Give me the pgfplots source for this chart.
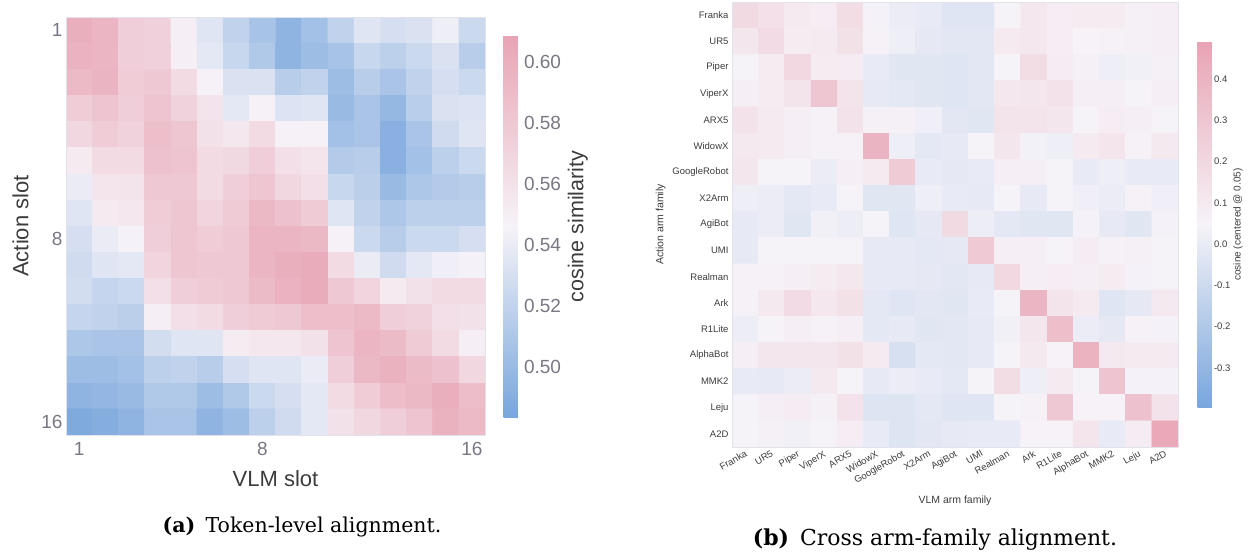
\documentclass[border=0pt]{standalone}
\usepackage{pgfplots}
\pgfplotsset{compat=1.18}
\usepackage{fontspec}
\setmainfont{Liberation Sans}
\newfontfamily\capfont{DejaVu Serif}
\definecolor{tickgray}{RGB}{120,120,132}
\definecolor{labdark}{RGB}{60,60,60}
\definecolor{framec}{RGB}{226,226,236}
\pgfplotsset{/pgf/number format/assume math mode=true,
  colormap={bwp}{rgb255(0cm)=(120,166,220); rgb255(1cm)=(246,243,248); rgb255(2cm)=(232,164,180)}}
\begin{document}
\begin{tikzpicture}
\path[use as bounding box] (0,0) rectangle (1251pt,552pt);
\begin{axis}[
 at={(66pt,117pt)}, anchor=south west, scale only axis,
 width=419pt, height=418pt,
 xmin=0.5, xmax=16.5, ymin=0.5, ymax=16.5, y dir=reverse,
 enlargelimits=false, axis on top,
 xtick={1,8,16}, ytick={1,9,16}, yticklabels={1,8,16},
 major tick length=0pt,
 axis line style={draw=framec},
 tick label style={font=\fontsize{19}{19}\selectfont, text=tickgray},
 xticklabel style={yshift=-4pt},
 xlabel={VLM slot}, ylabel={Action slot},
 xlabel shift=8pt, ylabel shift=6pt,
 label style={font=\fontsize{22}{22}\selectfont, text=labdark},
 colormap name=bwp, point meta min=0.4836, point meta max=0.6085,
 colorbar,
 colorbar style={at={(parent axis.north east)}, anchor=north west, xshift=10pt, yshift=-19pt,
   width=20pt, height=381pt, scale only axis, axis line style={draw=none}, major tick length=0pt,
   ytick={0.50,0.52,0.54,0.56,0.58,0.60},
   yticklabel style={xshift=-3pt, font=\fontsize{19}{19}\selectfont, text=tickgray, /pgf/number format/.cd, fixed, fixed zerofill, precision=2},
   ylabel={cosine similarity}, ylabel style={font=\fontsize{21.5}{21.5}\selectfont, text=labdark}},
]
\addplot[matrix plot*, mesh/cols=16, point meta=explicit] coordinates {
(1,1)[0.600] (2,1)[0.595] (3,1)[0.575] (4,1)[0.573] (5,1)[0.550] (6,1)[0.535] (7,1)[0.520] (8,1)[0.507] (9,1)[0.495] (10,1)[0.505] (11,1)[0.520] (12,1)[0.535] (13,1)[0.530] (14,1)[0.532] (15,1)[0.542] (16,1)[0.525]
(1,2)[0.597] (2,2)[0.595] (3,2)[0.575] (4,2)[0.573] (5,2)[0.550] (6,2)[0.537] (7,2)[0.523] (8,2)[0.512] (9,2)[0.495] (10,2)[0.502] (11,2)[0.507] (12,2)[0.523] (13,2)[0.518] (14,2)[0.525] (15,2)[0.532] (16,2)[0.515]
(1,3)[0.592] (2,3)[0.596] (3,3)[0.577] (4,3)[0.580] (5,3)[0.565] (6,3)[0.548] (7,3)[0.532] (8,3)[0.532] (9,3)[0.515] (10,3)[0.520] (11,3)[0.502] (12,3)[0.515] (13,3)[0.508] (14,3)[0.520] (15,3)[0.530] (16,3)[0.525]
(1,4)[0.577] (2,4)[0.583] (3,4)[0.575] (4,4)[0.583] (5,4)[0.572] (6,4)[0.558] (7,4)[0.537] (8,4)[0.548] (9,4)[0.533] (10,4)[0.535] (11,4)[0.500] (12,4)[0.508] (13,4)[0.498] (14,4)[0.516] (15,4)[0.532] (16,4)[0.533]
(1,5)[0.568] (2,5)[0.577] (3,5)[0.572] (4,5)[0.587] (5,5)[0.582] (6,5)[0.560] (7,5)[0.555] (8,5)[0.565] (9,5)[0.548] (10,5)[0.548] (11,5)[0.505] (12,5)[0.508] (13,5)[0.492] (14,5)[0.508] (15,5)[0.527] (16,5)[0.535]
(1,6)[0.553] (2,6)[0.565] (3,6)[0.565] (4,6)[0.585] (5,6)[0.583] (6,6)[0.565] (7,6)[0.567] (8,6)[0.575] (9,6)[0.562] (10,6)[0.557] (11,6)[0.513] (12,6)[0.515] (13,6)[0.492] (14,6)[0.505] (15,6)[0.518] (16,6)[0.525]
(1,7)[0.540] (2,7)[0.557] (3,7)[0.558] (4,7)[0.580] (5,7)[0.580] (6,7)[0.565] (7,7)[0.575] (8,7)[0.582] (9,7)[0.568] (10,7)[0.562] (11,7)[0.523] (12,7)[0.517] (13,7)[0.500] (14,7)[0.510] (15,7)[0.513] (16,7)[0.515]
(1,8)[0.535] (2,8)[0.553] (3,8)[0.555] (4,8)[0.577] (5,8)[0.582] (6,8)[0.570] (7,8)[0.578] (8,8)[0.593] (9,8)[0.585] (10,8)[0.578] (11,8)[0.535] (12,8)[0.520] (13,8)[0.510] (14,8)[0.518] (15,8)[0.518] (16,8)[0.518]
(1,9)[0.530] (2,9)[0.540] (3,9)[0.545] (4,9)[0.575] (5,9)[0.582] (6,9)[0.577] (7,9)[0.580] (8,9)[0.595] (9,9)[0.595] (10,9)[0.593] (11,9)[0.548] (12,9)[0.525] (13,9)[0.515] (14,9)[0.525] (15,9)[0.525] (16,9)[0.530]
(1,10)[0.527] (2,10)[0.535] (3,10)[0.537] (4,10)[0.570] (5,10)[0.582] (6,10)[0.580] (7,10)[0.580] (8,10)[0.595] (9,10)[0.600] (10,10)[0.602] (11,10)[0.565] (12,10)[0.540] (13,10)[0.527] (14,10)[0.537] (15,10)[0.543] (16,10)[0.545]
(1,11)[0.528] (2,11)[0.522] (3,11)[0.525] (4,11)[0.562] (5,11)[0.575] (6,11)[0.578] (7,11)[0.580] (8,11)[0.590] (9,11)[0.597] (10,11)[0.602] (11,11)[0.580] (12,11)[0.570] (13,11)[0.553] (14,11)[0.560] (15,11)[0.565] (16,11)[0.565]
(1,12)[0.522] (2,12)[0.520] (3,12)[0.517] (4,12)[0.550] (5,12)[0.562] (6,12)[0.565] (7,12)[0.575] (8,12)[0.578] (9,12)[0.580] (10,12)[0.587] (11,12)[0.587] (12,12)[0.592] (13,12)[0.575] (14,12)[0.572] (15,12)[0.562] (16,12)[0.560]
(1,13)[0.510] (2,13)[0.508] (3,13)[0.508] (4,13)[0.528] (5,13)[0.535] (6,13)[0.535] (7,13)[0.552] (8,13)[0.555] (9,13)[0.555] (10,13)[0.560] (11,13)[0.583] (12,13)[0.595] (13,13)[0.590] (14,13)[0.578] (15,13)[0.565] (16,13)[0.550]
(1,14)[0.502] (2,14)[0.502] (3,14)[0.505] (4,14)[0.518] (5,14)[0.520] (6,14)[0.515] (7,14)[0.530] (8,14)[0.535] (9,14)[0.535] (10,14)[0.540] (11,14)[0.575] (12,14)[0.593] (13,14)[0.598] (14,14)[0.590] (15,14)[0.585] (16,14)[0.568]
(1,15)[0.495] (2,15)[0.497] (3,15)[0.500] (4,15)[0.512] (5,15)[0.512] (6,15)[0.502] (7,15)[0.512] (8,15)[0.525] (9,15)[0.530] (10,15)[0.537] (11,15)[0.565] (12,15)[0.577] (13,15)[0.588] (14,15)[0.593] (15,15)[0.600] (16,15)[0.588]
(1,16)[0.487] (2,16)[0.490] (3,16)[0.495] (4,16)[0.508] (5,16)[0.508] (6,16)[0.495] (7,16)[0.502] (8,16)[0.518] (9,16)[0.527] (10,16)[0.537] (11,16)[0.560] (12,16)[0.568] (13,16)[0.575] (14,16)[0.583] (15,16)[0.598] (16,16)[0.592]
};
\end{axis}
\begin{axis}[
 at={(732pt,105pt)}, anchor=south west, scale only axis,
 width=446pt, height=445pt,
 xmin=0.5, xmax=17.5, ymin=0.5, ymax=17.5, y dir=reverse,
 enlargelimits=false, axis on top,
 xtick={1,...,17}, ytick={1,...,17},
 xticklabels={Franka,UR5,Piper,ViperX,ARX5,WidowX,GoogleRobot,X2Arm,AgiBot,UMI,Realman,Ark,R1Lite,AlphaBot,MMK2,Leju,A2D},
 yticklabels={Franka,UR5,Piper,ViperX,ARX5,WidowX,GoogleRobot,X2Arm,AgiBot,UMI,Realman,Ark,R1Lite,AlphaBot,MMK2,Leju,A2D},
 major tick length=0pt,
 axis line style={draw=framec},
 tick label style={font=\fontsize{9.5}{9.5}\selectfont, text=labdark},
 xticklabel style={rotate=30, anchor=north east, inner sep=2pt},
 xlabel={VLM arm family}, ylabel={Action arm family},
 xlabel shift=4pt,
 label style={font=\fontsize{10.5}{10.5}\selectfont, text=labdark},
 colormap name=bwp, point meta min=-0.395, point meta max=0.49,
 colorbar,
 colorbar style={at={(parent axis.north east)}, anchor=north west, xshift=11pt, yshift=-40pt,
   width=19pt, height=365pt, scale only axis, axis line style={draw=none}, major tick length=0pt,
   ytick={-0.3,-0.2,-0.1,0,0.1,0.2,0.3,0.4},
   yticklabel style={xshift=-6pt, font=\fontsize{9.5}{9.5}\selectfont, text=labdark, /pgf/number format/.cd, fixed, fixed zerofill, precision=1},
   ylabel={cosine (centered @ 0.05)}, ylabel shift=-4pt, ylabel style={font=\fontsize{10}{10}\selectfont, text=labdark}},
]
\addplot[matrix plot*, mesh/cols=17, point meta=explicit] coordinates {
(1,1)[0.19] (2,1)[0.155] (3,1)[0.10] (4,1)[0.08] (5,1)[0.17] (6,1)[0.04] (7,1)[0.01] (8,1)[0.00] (9,1)[-0.03] (10,1)[-0.03] (11,1)[0.045] (12,1)[0.11] (13,1)[0.08] (14,1)[0.085] (15,1)[0.085] (16,1)[0.065] (17,1)[0.07]
(1,2)[0.12] (2,2)[0.18] (3,2)[0.085] (4,2)[0.10] (5,2)[0.15] (6,2)[0.06] (7,2)[0.02] (8,2)[-0.01] (9,2)[-0.02] (10,2)[-0.02] (11,2)[0.10] (12,2)[0.11] (13,2)[0.08] (14,2)[0.055] (15,2)[0.06] (16,2)[0.065] (17,2)[0.07]
(1,3)[0.045] (2,3)[0.085] (3,3)[0.20] (4,3)[0.085] (5,3)[0.09] (6,3)[0.00] (7,3)[-0.025] (8,3)[-0.025] (9,3)[-0.035] (10,3)[-0.02] (11,3)[0.045] (12,3)[0.17] (13,3)[0.09] (14,3)[0.065] (15,3)[0.02] (16,3)[0.03] (17,3)[0.065]
(1,4)[0.075] (2,4)[0.085] (3,4)[0.13] (4,4)[0.30] (5,4)[0.13] (6,4)[-0.005] (7,4)[-0.015] (8,4)[-0.025] (9,4)[-0.035] (10,4)[-0.02] (11,4)[0.11] (12,4)[0.12] (13,4)[0.145] (14,4)[0.075] (15,4)[0.075] (16,4)[0.045] (17,4)[0.075]
(1,5)[0.145] (2,5)[0.10] (3,5)[0.07] (4,5)[0.06] (5,5)[0.145] (6,5)[0.065] (7,5)[0.065] (8,5)[0.025] (9,5)[-0.02] (10,5)[-0.025] (11,5)[0.14] (12,5)[0.14] (13,5)[0.12] (14,5)[0.05] (15,5)[0.08] (16,5)[0.07] (17,5)[0.05]
(1,6)[0.105] (2,6)[0.10] (3,6)[0.07] (4,6)[0.06] (5,6)[0.06] (6,6)[0.40] (7,6)[0.02] (8,6)[-0.015] (9,6)[-0.005] (10,6)[0.045] (11,6)[0.12] (12,6)[0.035] (13,6)[0.02] (14,6)[0.10] (15,6)[0.125] (16,6)[0.06] (17,6)[0.105]
(1,7)[0.12] (2,7)[0.045] (3,7)[0.05] (4,7)[0.01] (5,7)[0.07] (6,7)[0.10] (7,7)[0.27] (8,7)[0.00] (9,7)[-0.01] (10,7)[0.00] (11,7)[0.07] (12,7)[0.07] (13,7)[0.05] (14,7)[0.00] (15,7)[0.02] (16,7)[0.00] (17,7)[0.00]
(1,8)[0.02] (2,8)[0.01] (3,8)[-0.015] (4,8)[0.00] (5,8)[0.045] (6,8)[-0.025] (7,8)[-0.025] (8,8)[0.02] (9,8)[0.00] (10,8)[-0.005] (11,8)[0.05] (12,8)[-0.005] (13,8)[0.045] (14,8)[0.025] (15,8)[0.01] (16,8)[0.06] (17,8)[0.025]
(1,9)[-0.005] (2,9)[0.01] (3,9)[-0.025] (4,9)[0.03] (5,9)[0.015] (6,9)[0.045] (7,9)[-0.035] (8,9)[-0.01] (9,9)[0.19] (10,9)[0.015] (11,9)[-0.015] (12,9)[-0.025] (13,9)[-0.025] (14,9)[0.04] (15,9)[-0.005] (16,9)[-0.025] (17,9)[0.04]
(1,10)[-0.005] (2,10)[0.05] (3,10)[0.045] (4,10)[0.045] (5,10)[0.045] (6,10)[-0.005] (7,10)[-0.005] (8,10)[-0.015] (9,10)[-0.01] (10,10)[0.28] (11,10)[0.07] (12,10)[0.075] (13,10)[0.05] (14,10)[0.09] (15,10)[0.06] (16,10)[0.065] (17,10)[0.05]
(1,11)[0.06] (2,11)[0.06] (3,11)[0.075] (4,11)[0.085] (5,11)[0.115] (6,11)[-0.005] (7,11)[-0.005] (8,11)[-0.01] (9,11)[-0.02] (10,11)[-0.005] (11,11)[0.20] (12,11)[0.075] (13,11)[0.08] (14,11)[0.07] (15,11)[0.085] (16,11)[0.04] (17,11)[0.045]
(1,12)[0.06] (2,12)[0.105] (3,12)[0.18] (4,12)[0.115] (5,12)[0.15] (6,12)[-0.015] (7,12)[-0.03] (8,12)[-0.02] (9,12)[-0.025] (10,12)[0.00] (11,12)[0.045] (12,12)[0.39] (13,12)[0.14] (14,12)[0.10] (15,12)[-0.03] (16,12)[-0.01] (17,12)[0.105]
(1,13)[0.015] (2,13)[0.045] (3,13)[0.075] (4,13)[0.06] (5,13)[0.07] (6,13)[-0.015] (7,13)[-0.005] (8,13)[-0.025] (9,13)[-0.02] (10,13)[-0.005] (11,13)[0.03] (12,13)[0.12] (13,13)[0.34] (14,13)[0.01] (15,13)[-0.01] (16,13)[0.06] (17,13)[0.04]
(1,14)[0.075] (2,14)[0.12] (3,14)[0.12] (4,14)[0.12] (5,14)[0.15] (6,14)[0.10] (7,14)[-0.06] (8,14)[-0.015] (9,14)[-0.02] (10,14)[-0.005] (11,14)[0.045] (12,14)[0.105] (13,14)[0.055] (14,14)[0.41] (15,14)[0.105] (16,14)[0.095] (17,14)[0.095]
(1,15)[0.00] (2,15)[-0.005] (3,15)[0.01] (4,15)[0.105] (5,15)[0.05] (6,15)[-0.005] (7,15)[0.01] (8,15)[0.00] (9,15)[-0.015] (10,15)[0.045] (11,15)[0.17] (12,15)[0.02] (13,15)[0.10] (14,15)[0.045] (15,15)[0.31] (16,15)[0.04] (17,15)[0.04]
(1,16)[0.05] (2,16)[0.07] (3,16)[0.09] (4,16)[0.065] (5,16)[0.145] (6,16)[-0.04] (7,16)[-0.04] (8,16)[-0.015] (9,16)[-0.03] (10,16)[-0.03] (11,16)[0.045] (12,16)[0.06] (13,16)[0.29] (14,16)[0.055] (15,16)[0.055] (16,16)[0.32] (17,16)[0.145]
(1,17)[0.045] (2,17)[0.065] (3,17)[0.03] (4,17)[0.045] (5,17)[0.08] (6,17)[0.00] (7,17)[-0.04] (8,17)[-0.02] (9,17)[-0.005] (10,17)[0.00] (11,17)[0.00] (12,17)[0.055] (13,17)[0.055] (14,17)[0.125] (15,17)[0.00] (16,17)[0.09] (17,17)[0.46]
};
\end{axis}
\node[font=\capfont\fontsize{20.5}{20.5}\selectfont] at (302pt,25pt) {\textbf{(a)}\enspace Token-level alignment.};
\node[font=\capfont\fontsize{22}{22}\selectfont] at (935pt,12pt) {\textbf{(b)}\enspace Cross arm-family alignment.};
\end{tikzpicture}
\end{document}
